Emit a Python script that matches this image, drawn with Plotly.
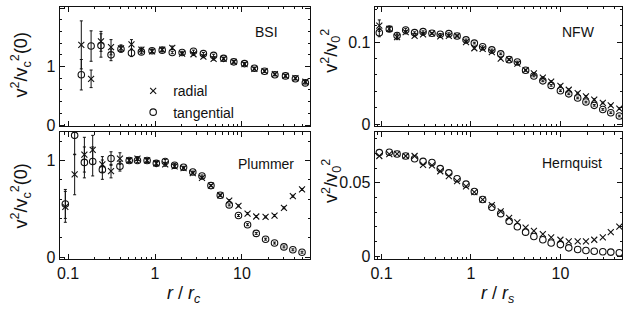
import plotly.graph_objects as go

# ---------------- data ----------------
# BSI (top-left)
r_bsi = [0.142, 0.184, 0.239, 0.312, 0.406, 0.536, 0.697, 0.924, 1.21, 1.58, 2.05, 2.77,
         3.60, 4.72, 6.15, 8.06, 10.7, 13.9, 18.2, 23.9, 31.7, 41.2, 53.6]
bsi_rad = [1.37, 0.79, 1.43, 1.33, 1.31, 1.38, 1.29, 1.26, 1.29, 1.32, 1.22, 1.21,
           1.17, 1.13, 1.13, 1.08, 1.04, 0.96, 0.92, 0.87, 0.84, 0.80, 0.74]
bsi_tan = [0.86, 1.35, 1.36, 1.20, 1.30, 1.23, 1.25, 1.27, 1.28, 1.24, 1.24, 1.26,
           1.22, 1.19, 1.14, 1.08, 1.05, 0.97, 0.92, 0.86, 0.84, 0.79, 0.72]
bsi_rad_err = [0.41, 0.15, 0.17, 0.13, 0.06, 0.08, 0.04, 0.03, 0.03, 0.03, 0.02, 0.02,
               0.02, 0.02, 0.02, 0.02, 0.02, 0.02, 0.02, 0.02, 0.02, 0.02, 0.02]
bsi_tan_err = [0.26, 0.26, 0.20, 0.10, 0.05, 0.06, 0.03, 0.03, 0.03, 0.02, 0.02, 0.02,
               0.02, 0.02, 0.02, 0.02, 0.02, 0.02, 0.02, 0.02, 0.02, 0.02, 0.02]

# Plummer (bottom-left)
r_plu = [0.093, 0.119, 0.154, 0.192, 0.248, 0.312, 0.395, 0.505, 0.628, 0.811, 1.035, 1.31,
         1.68, 2.13, 2.72, 3.47, 4.40, 5.63, 7.14, 9.12, 11.6, 14.6, 18.7, 23.7, 30.4, 38.5, 49.1]
plu_rad = [0.52, 0.855, 1.06, 1.11, 0.96, 0.89, 1.02, 1.00, 1.02, 1.00, 0.97, 0.96,
           0.94, 0.92, 0.87, 0.82, 0.74, 0.64, 0.585, 0.53, 0.45, 0.42, 0.415, 0.43, 0.51, 0.63, 0.70]
plu_tan = [0.55, 1.26, 0.98, 0.99, 0.905, 1.02, 0.94, 1.00, 1.00, 1.00, 0.97, 0.99,
           0.95, 0.93, 0.88, 0.84, 0.74, 0.64, 0.54, 0.43, 0.335, 0.245, 0.185, 0.145, 0.105, 0.075, 0.05]
plu_rad_err = [0.16, 0.21, 0.18, 0.15, 0.08, 0.07, 0.06, 0.02, 0.02, 0.02, 0.02, 0.02,
               0.02, 0.01, 0.01, 0.01, 0.01, 0.01, 0.01, 0.01, 0.01, 0.01, 0.01, 0.01, 0.01, 0.01, 0.01]
plu_tan_err = [0.15, 0.20, 0.16, 0.15, 0.10, 0.07, 0.05, 0.02, 0.02, 0.02, 0.02, 0.02,
               0.02, 0.01, 0.01, 0.01, 0.01, 0.01, 0.01, 0.01, 0.01, 0.01, 0.01, 0.01, 0.01, 0.01, 0.01]

# NFW (top-right) and Hernquist (bottom-right) share radii
r_s = [0.0943, 0.122, 0.149, 0.186, 0.234, 0.291, 0.366, 0.453, 0.565, 0.699, 0.880, 1.09,
       1.35, 1.71, 2.15, 2.67, 3.30, 4.08, 5.05, 6.36, 7.88, 10.0, 12.4, 15.6, 19.3, 23.9,
       29.8, 36.6, 45.6]
nfw_rad = [0.120, 0.116, 0.106, 0.112, 0.1075, 0.1095, 0.1107, 0.107, 0.1075, 0.1075, 0.100, 0.0925,
           0.0917, 0.0877, 0.080, 0.0786, 0.0738, 0.0658, 0.062, 0.0568, 0.052, 0.0468, 0.042, 0.038,
           0.034, 0.030, 0.026, 0.023, 0.019]
nfw_tan = [0.1115, 0.116, 0.108, 0.1147, 0.1115, 0.1127, 0.1107, 0.1095, 0.1103, 0.1075, 0.1027, 0.0988,
           0.0944, 0.0905, 0.0857, 0.0786, 0.0758, 0.0658, 0.0587, 0.0528, 0.0473, 0.0408, 0.037, 0.032,
           0.027, 0.023, 0.018, 0.014, 0.010]
nfw_rad_err = [0.007, 0.003, 0.003, 0.002, 0.001, 0.001, 0.001, 0.001, 0.001, 0.001, 0.001, 0.001,
               0.001, 0.001, 0.001, 0.001, 0.001, 0.001, 0.001, 0.001, 0.001, 0.001, 0.001, 0.001,
               0.001, 0.001, 0.001, 0.001, 0.001]
nfw_tan_err = [0.005, 0.003, 0.003, 0.002, 0.001, 0.001, 0.001, 0.001, 0.001, 0.001, 0.001, 0.001,
               0.001, 0.001, 0.001, 0.001, 0.001, 0.001, 0.001, 0.001, 0.001, 0.001, 0.001, 0.001,
               0.001, 0.001, 0.001, 0.001, 0.001]
her_rad = [0.0682, 0.0695, 0.0696, 0.0682, 0.0682, 0.0622, 0.0618, 0.0578, 0.0545, 0.0511, 0.0475, 0.0435,
           0.0385, 0.0347, 0.0305, 0.026, 0.0229, 0.0193, 0.0171, 0.0149, 0.0127, 0.0111, 0.0100, 0.0100,
           0.0100, 0.0111, 0.0127, 0.0163, 0.020]
her_tan = [0.0705, 0.0707, 0.0696, 0.0682, 0.0663, 0.0645, 0.0638, 0.0596, 0.0567, 0.0527, 0.0490, 0.0440,
           0.0385, 0.0333, 0.0289, 0.0238, 0.020, 0.0163, 0.0133, 0.0111, 0.0089, 0.0078, 0.0056, 0.0045,
           0.0038, 0.0033, 0.0029, 0.0027, 0.0022]

panel_names = ["BSI", "NFW", "Plummer", "Hernquist"]
x_tickvals = [0.1, 1, 10]
x_ticktext = ["0.1", "1", "10"]

# ---------------- figure ----------------
FONT = "Arial, Liberation Sans, sans-serif"
INK = "#111111"
fig = go.Figure()


def add_pair(r, rad, tan, rad_err, tan_err, xa, ya, legend):
    common = dict(mode="markers", xaxis=xa, yaxis=ya)
    fig.add_trace(go.Scatter(
        x=r, y=rad, name="radial", showlegend=legend,
        marker=dict(symbol="x-thin-open", size=6, color=INK, line=dict(width=1.1, color=INK)),
        error_y=dict(type="data", array=rad_err, visible=True,
                     color=INK, thickness=1, width=1.5) if rad_err is not None else None,
        **common))
    fig.add_trace(go.Scatter(
        x=r, y=tan, name="tangential", showlegend=legend,
        marker=dict(symbol="circle-open", size=6.5, color=INK, line=dict(width=1.1, color=INK)),
        error_y=dict(type="data", array=tan_err, visible=True,
                     color=INK, thickness=1, width=1.5) if tan_err is not None else None,
        **common))


add_pair(r_bsi, bsi_rad, bsi_tan, bsi_rad_err, bsi_tan_err, "x", "y", True)
add_pair(r_s, nfw_rad, nfw_tan, nfw_rad_err, nfw_tan_err, "x2", "y2", False)
add_pair(r_plu, plu_rad, plu_tan, plu_rad_err, plu_tan_err, "x3", "y3", False)
add_pair(r_s, her_rad, her_tan, None, None, "x4", "y4", False)

W, H = 624, 324
dom_xl = [56 / W, 308 / W]
dom_xr = [373 / W, 622 / W]
dom_yt = [1 - 129 / H, 1 - 7 / H]
dom_yb = [1 - 265 / H, 1 - 135 / H]

axis_common = dict(showline=True, linecolor=INK, linewidth=1, mirror="ticks",
                   ticks="inside", ticklen=5, tickcolor=INK, tickwidth=1,
                   showgrid=False, zeroline=False,
                   tickfont=dict(family=FONT, size=16, color=INK))


def xaxis(domain, anchor, rng, labels):
    return dict(axis_common, type="log", domain=domain, anchor=anchor, range=rng,
                tickvals=x_tickvals, ticktext=x_ticktext, showticklabels=labels,
                minor=dict(ticks="inside", ticklen=2.5, tickcolor=INK, dtick="D1", showgrid=False))


def yaxis(domain, anchor, rng, dtick, mdtick):
    return dict(axis_common, domain=domain, anchor=anchor, range=rng, dtick=dtick, tick0=0,
                minor=dict(ticks="inside", ticklen=2.5, tickcolor=INK, dtick=mdtick, tick0=0,
                           showgrid=False))


xl_rng = [-1.097, 1.783]
xr_rng = [-1.078, 1.689]

fig.update_layout(
    width=W, height=H, margin=dict(l=0, r=0, t=0, b=0),
    paper_bgcolor="white", plot_bgcolor="white",
    font=dict(family=FONT, color=INK),
    xaxis=xaxis(dom_xl, "y", xl_rng, False),
    xaxis2=xaxis(dom_xr, "y2", xr_rng, False),
    xaxis3=xaxis(dom_xl, "y3", xl_rng, True),
    xaxis4=xaxis(dom_xr, "y4", xr_rng, True),
    yaxis=yaxis(dom_yt, "x", [-0.02, 2.02], 1, 0.2),
    yaxis2=yaxis(dom_yt, "x2", [-0.0024, 0.1429], 0.1, 0.02),
    yaxis3=yaxis(dom_yb, "x3", [-0.023, 1.294], 1, 0.2),
    yaxis4=yaxis(dom_yb, "x4", [-0.0022, 0.0845], 0.05, 0.01),
    showlegend=True,
    legend=dict(x=130 / W, y=1 - 77 / H, xanchor="left", yanchor="top",
                bgcolor="rgba(0,0,0,0)", font=dict(family=FONT, size=14, color=INK),
                itemwidth=30, tracegroupgap=0),
)

ann = []
# panel labels
ann.append(dict(text=panel_names[0], x=278 / W, y=1 - 33 / H, xanchor="right", yanchor="middle"))
ann.append(dict(text=panel_names[1], x=597 / W, y=1 - 33 / H, xanchor="right", yanchor="middle"))
ann.append(dict(text=panel_names[2], x=294 / W, y=1 - 168 / H, xanchor="right", yanchor="middle"))
ann.append(dict(text=panel_names[3], x=604 / W, y=1 - 167 / H, xanchor="right", yanchor="middle"))
for a in ann:
    a.update(xref="paper", yref="paper", showarrow=False, font=dict(family=FONT, size=14, color=INK))

ytitle_font = dict(family=FONT, size=18, color=INK)
titles = [
    dict(text="v<sup>2</sup>/v<sub>c</sub><sup>2</sup>(0)", x=17 / W, y=1 - 66 / H, textangle=-90),
    dict(text="v<sup>2</sup>/v<sub>c</sub><sup>2</sup>(0)", x=17 / W, y=1 - 200 / H, textangle=-90),
    dict(text="v<sup>2</sup>/v<sub>0</sub><sup>2</sup>", x=329 / W, y=1 - 52 / H, textangle=-90),
    dict(text="v<sup>2</sup>/v<sub>0</sub><sup>2</sup>", x=329 / W, y=1 - 185 / H, textangle=-90),
    dict(text="<i>r</i> / <i>r<sub>c</sub></i>", x=181 / W, y=1 - 301 / H, textangle=0),
    dict(text="<i>r</i> / <i>r<sub>s</sub></i>", x=497 / W, y=1 - 301 / H, textangle=0),
]
for t in titles:
    t.update(xref="paper", yref="paper", showarrow=False, xanchor="center", yanchor="middle",
             font=ytitle_font)
    ann.append(t)

fig.update_layout(annotations=ann)
fig.write_html("out.html")
